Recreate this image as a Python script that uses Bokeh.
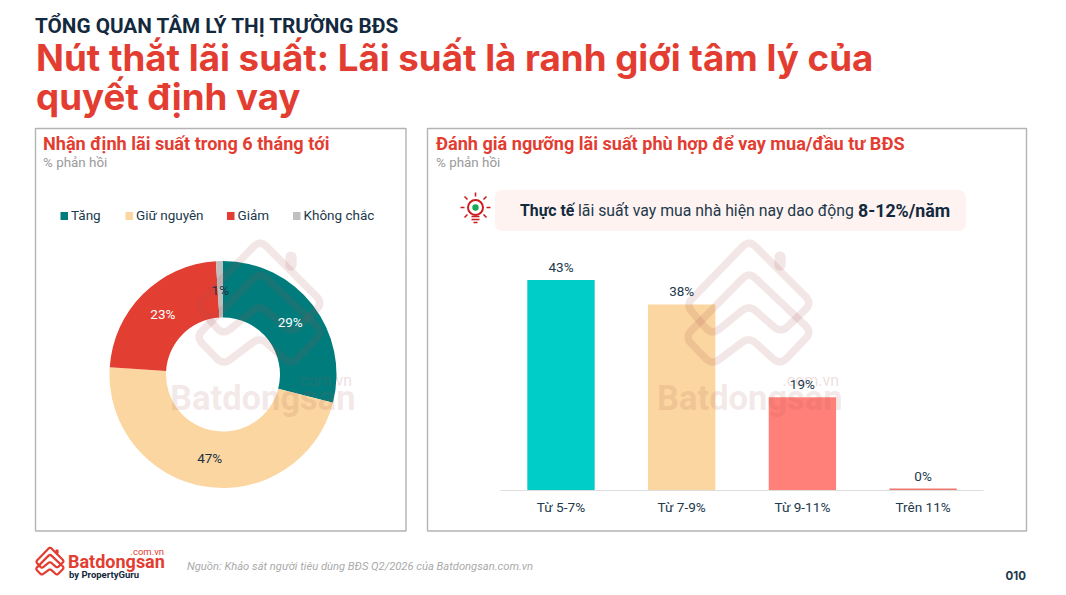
import math
from bokeh.plotting import figure
from bokeh.models import Range1d, LinearAxis, FixedTicker
from bokeh.core.properties import value
from bokeh.embed import file_html
from bokeh.resources import INLINE

# ---- data
donut_names = ["Tăng", "Giữ nguyên", "Giảm", "Không chắc"]
donut_values = [29, 47, 23, 1]
donut_colors = ["#007c7c", "#fbd6a0", "#e23e32", "#bfbfbf"]
donut_label_colors = ["#ffffff", "#1c3347", "#ffffff", "#1c3347"]

bar_names = ["Từ 5-7%", "Từ 7-9%", "Từ 9-11%", "Trên 11%"]
bar_values = [43, 38, 19, 0.3]
bar_labels = ["43%", "38%", "19%", "0%"]
bar_colors = ["#00cdc7", "#fbd6a0", "#ff8078", "#f0776e"]

RED = "#e33d32"
NAVY = "#13293d"
TEXT = "#22394c"
GREY = "#9a9a9a"

W, H = 1050, 587
X0, Y0 = 0.5, 0.5
p = figure(width=W, height=H, output_backend="svg", toolbar_location=None,
           x_range=Range1d(X0, X0 + W), y_range=Range1d(Y0 + H, Y0),
           x_axis_location=None, y_axis_location=None, min_border=0,
           outline_line_color=None, background_fill_color="white", border_fill_color="white")
p.grid.visible = False


def txt(x, y, s, size, color, font="Roboto", style="normal", align="left", baseline="middle", alpha=1.0):
    p.text([x], [y], text=[s], text_font=value(font), text_font_size=value(f"{size}px"),
           text_font_style=style, text_color=color, text_align=align,
           text_baseline=baseline, text_alpha=alpha)


# heading
txt(35, 26, "TỔNG QUAN TÂM LÝ THỊ TRƯỜNG BĐS", 20.7, NAVY, style="bold")
txt(36, 57, "Nút thắt lãi suất: Lãi suất là ranh giới tâm lý của", 36.7, RED, font="Inter", style="bold")
txt(36, 96.5, "quyết định vay", 36.7, RED, font="Inter", style="bold")

# panels
p.quad(left=[35.5, 427.5], right=[406, 1026.5], bottom=[531, 531], top=[128.5, 128.5],
       fill_color=None, line_color="#b3b3b3", line_width=1.4)

txt(43, 143.5, "Nhận định lãi suất trong 6 tháng tới", 18.1, RED, style="bold")
txt(43, 162, "% phản hồi", 13.4, GREY)
txt(436, 143.5, "Đánh giá ngưỡng lãi suất phù hợp để vay mua/đầu tư BĐS", 18.1, RED, style="bold")
txt(436, 162, "% phản hồi", 13.4, GREY)

# legend
legend_x = [60.5, 125.5, 227, 293]
for x, name, col in zip(legend_x, donut_names, donut_colors):
    p.quad(left=[x], right=[x + 7.5], top=[212], bottom=[220], fill_color=col, line_color=None)
    txt(x + 10.5, 215, name, 13.5, TEXT)

# donut
CX, CY, R0, R1, RL = 223, 374.5, 57, 113.5, 85
total = sum(donut_values)
cum = 0
starts, ends, mids = [], [], []
for v in donut_values:
    a0 = cum / total * 2 * math.pi
    cum += v
    a1 = cum / total * 2 * math.pi
    starts.append(math.pi / 2 - a0)
    ends.append(math.pi / 2 - a1)
    mids.append((a0 + a1) / 2)

p.annular_wedge(x=[CX] * 4, y=[CY] * 4, inner_radius=R0, outer_radius=R1,
                start_angle=ends, end_angle=starts, direction="anticlock",
                fill_color=donut_colors, line_color=None)

# bars, on their own scales
PX_UNIT = 210 / 43
BAR_PITCH = 120.7
p.extra_x_ranges["bx"] = Range1d((X0 - 561) / BAR_PITCH, (X0 + W - 561) / BAR_PITCH)
p.extra_y_ranges["by"] = Range1d((490 - Y0 - H) / PX_UNIT, (490 - Y0) / PX_UNIT)
idx = list(range(len(bar_names)))
ax = LinearAxis(x_range_name="bx", y_range_name="by", fixed_location=0,
                ticker=FixedTicker(ticks=idx),
                major_label_overrides={i: n for i, n in zip(idx, bar_names)},
                bounds=(-0.5, 3.5), axis_line_color="#dddddd", axis_line_width=1.2,
                major_tick_line_color=None, minor_tick_line_color=None,
                major_label_text_font="Roboto", major_label_text_font_size="13.6px",
                major_label_text_color=TEXT, major_label_standoff=3, level="underlay")
p.add_layout(ax, "below")
p.vbar(x=idx, top=bar_values, bottom=0, width=0.558, fill_color=bar_colors, line_color=None,
       x_range_name="bx", y_range_name="by")


def rounded(xs, ys, r):
    """Closed outline with its corners rounded by radius-like distance r."""
    n = len(xs)
    ox, oy = [], []
    for i in range(n):
        ax_, ay_ = xs[i - 1], ys[i - 1]
        bx_, by_ = xs[i], ys[i]
        cx_, cy_ = xs[(i + 1) % n], ys[(i + 1) % n]
        la = math.hypot(ax_ - bx_, ay_ - by_)
        lc = math.hypot(cx_ - bx_, cy_ - by_)
        sx = bx_ + (ax_ - bx_) * r / la
        sy = by_ + (ay_ - by_) * r / la
        ex = bx_ + (cx_ - bx_) * r / lc
        ey = by_ + (cy_ - by_) * r / lc
        for t in (0, 0.2, 0.4, 0.6, 0.8, 1):
            ox.append((1 - t) ** 2 * sx + 2 * t * (1 - t) * bx_ + t ** 2 * ex)
            oy.append((1 - t) ** 2 * sy + 2 * t * (1 - t) * by_ + t ** 2 * ey)
    return ox + ox[:1], oy + oy[:1]


# watermarks
def house(cx, top, k, width, color, alpha):
    a = [0, 63, 32, 0, -37, -63]
    b = [0, 63, 93, 65, 95, 65]
    c = [0, 63, 31, 0, -37, -64]
    d = [32, 92, 125, 97, 125, 97]
    o1 = rounded([cx + k * v for v in a], [top + k * v for v in b], 9 * k)
    o2 = rounded([cx + k * v for v in c], [top + k * v for v in d], 9 * k)
    p.multi_line([o1[0], o2[0]], [o1[1], o2[1]], line_color=color, line_width=width,
                 line_alpha=alpha, line_join="round", line_cap="round")
    p.line([cx + 31 * k, cx + 31 * k], [top + 17 * k, top + 25 * k], line_color=color, line_width=width * 1.5,
           line_alpha=alpha, line_cap="round")


for cx, tx in ((260, 170), (749, 657)):
    house(cx, 240, 1, 7.5, "#a85050", 0.14)
    txt(tx, 398, "Batdongsan", 34.5, "#a85050", font="Roboto", style="bold", alpha=0.14)
    txt(tx + 182, 380, ".com.vn", 16, "#a85050", font="Roboto", align="right", alpha=0.2)

# donut labels
for m, v, col in zip(mids, donut_values, donut_label_colors):
    txt(CX + RL * math.sin(m), CY - RL * math.cos(m), f"{v}%", 13.5, col, align="center")

# bar labels, placed from the bar scale
for i, lab in zip(idx, bar_labels):
    p.text([i], [bar_values[i]], text=[lab], x_range_name="bx", y_range_name="by",
           text_font=value("Roboto"), text_font_size=value("13.5px"), text_color=TEXT,
           text_align="center", text_baseline="bottom", y_offset=-5)

# callout
p.quad(left=[495], right=[966], top=[190], bottom=[231], fill_color="#fff3f1", line_color=None, border_radius=7)
txt(520, 210, "Thực tế", 15.8, NAVY, style="bold")
txt(578, 210, "lãi suất vay mua nhà hiện nay dao động", 15.8, TEXT)
txt(858, 210, "8-12%/năm", 17.8, NAVY, style="bold")

# bulb icon
BULB = "#cc1e1e"
bx, by = 475.5, 207.5
p.circle([bx], [by], radius=7.5, fill_color="white", line_color=BULB, line_width=2)
p.circle([bx], [by], radius=3.2, fill_color="#18a957", line_color=None)
rays = [(0, -15, 0, -11), (-15, 0, -11, 0), (11, 0, 15, 0), (-11, -11, -8, -8), (11, -11, 8, -8),
        (-11, 10, -8, 7), (11, 10, 8, 7), (-4, 9, 4, 9), (-4, 12, 4, 12), (-2, 15, 2, 15)]
p.multi_line([[bx + r[0], bx + r[2]] for r in rays], [[by + r[1], by + r[3]] for r in rays],
             line_color=BULB, line_width=1.6)

# footer logo
house(50, 547, 0.225, 2.2, RED, 1.0)
txt(68, 561, "Batdongsan", 18, RED, font="Roboto", style="bold")
txt(164, 551, ".com.vn", 9.5, RED, font="Roboto", align="right")
txt(69, 574, "by PropertyGuru", 9.5, NAVY, font="Roboto", style="bold")
txt(187, 566, "Nguồn: Khảo sát người tiêu dùng BĐS Q2/2026 của Batdongsan.com.vn", 11.2, "#aaaaaa", style="italic")
txt(1026, 575, "010", 11.5, "#22394c", font="Inter", style="bold", align="right")

open("out.html", "w").write(file_html(p, INLINE))
